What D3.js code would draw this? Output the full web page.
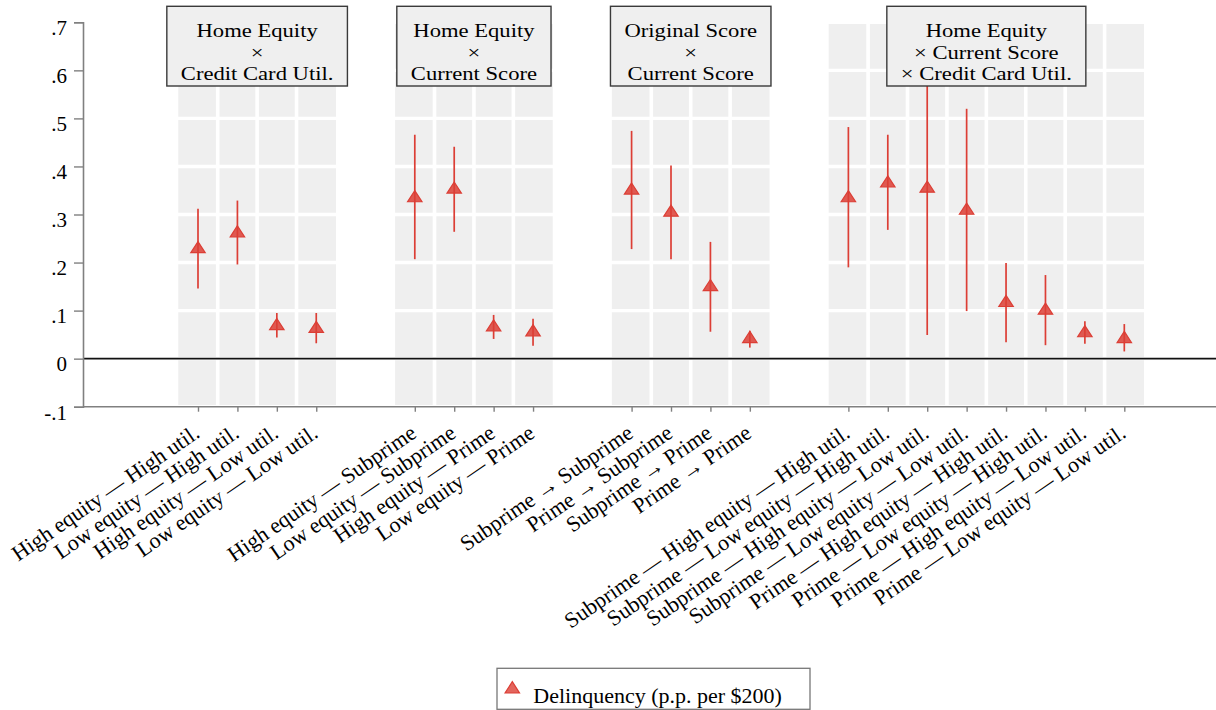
<!DOCTYPE html>
<html>
<head>
<meta charset="utf-8">
<script src="https://cdn.jsdelivr.net/npm/d3@7"></script>
<style>
  html, body { margin: 0; padding: 0; background: #fff; }
  svg { display: block; font-family: "Liberation Serif", "DejaVu Serif", serif; }
</style>
</head>
<body>
<svg id="chart" width="1216" height="710"></svg>
<script>
// ---------------- DATA ----------------
const groupTitles = [
  ["Home Equity", "\u00d7", "Credit Card Util."],
  ["Home Equity", "\u00d7", "Current Score"],
  ["Original Score", "\u00d7", "Current Score"],
  ["Home Equity", "\u00d7 Current Score", "\u00d7 Credit Card Util."]
];
const groupSizes = [4, 4, 4, 8];
const categories = [
  "High equity \u2014 High util.", "Low equity \u2014 High util.", "High equity \u2014 Low util.", "Low equity \u2014 Low util.",
  "High equity \u2014 Subprime", "Low equity \u2014 Subprime", "High equity \u2014 Prime", "Low equity \u2014 Prime",
  "Subprime \u2192 Subprime", "Prime \u2192 Subprime", "Subprime \u2192 Prime", "Prime \u2192 Prime",
  "Subprime \u2014 High equity \u2014 High util.", "Subprime \u2014 Low equity \u2014 High util.",
  "Subprime \u2014 High equity \u2014 Low util.", "Subprime \u2014 Low equity \u2014 Low util.",
  "Prime \u2014 High equity \u2014 High util.", "Prime \u2014 Low equity \u2014 High util.",
  "Prime \u2014 High equity \u2014 Low util.", "Prime \u2014 Low equity \u2014 Low util."
];
const estimates = [0.232, 0.265, 0.072, 0.066,
                   0.338, 0.356, 0.069, 0.059,
                   0.354, 0.308, 0.153, 0.045,
                   0.338, 0.369, 0.358, 0.312, 0.120, 0.104, 0.057, 0.045];
const ciLow     = [0.146, 0.196, 0.044, 0.032,
                   0.207, 0.264, 0.041, 0.027,
                   0.228, 0.207, 0.056, 0.023,
                   0.190, 0.268, 0.049, 0.099, 0.034, 0.028, 0.031, 0.015];
const ciHigh    = [0.312, 0.329, 0.095, 0.095,
                   0.466, 0.441, 0.091, 0.083,
                   0.474, 0.402, 0.243, 0.058,
                   0.482, 0.466, 0.620, 0.520, 0.199, 0.174, 0.078, 0.072];
const yTicks = [-0.1, 0, 0.1, 0.2, 0.3, 0.4, 0.5, 0.6, 0.7];
const yTickLabels = ["-.1", "0", ".1", ".2", ".3", ".4", ".5", ".6", ".7"];
const legendLabel = "Delinquency (p.p. per $200)";

// ---------------- LAYOUT ----------------
const W = 1216, H = 710;
const red = "#dc3e35";
const bandGrey = "#efefef";
const FONT = 22;

// slot positions: consecutive within a group, 2.5 slots between groups
const positions = [];
const groupIndex = [];
let p = 0;
groupSizes.forEach((n, g) => {
  for (let i = 0; i < n; i++) { positions.push(p); groupIndex.push(g); p += 1; }
  p += 1.5;
});

const x = d3.scaleLinear().domain([0, 23.5]).range([198, 1124.3]);
const y = d3.scaleLinear().domain([-0.1, 0.7]).range([406.7, 22.3]);
const step = x(1) - x(0);
const axisX0 = 83;

const svg = d3.select("#chart");

const data = categories.map((c, i) => ({
  cat: c, pos: positions[i], g: groupIndex[i],
  est: estimates[i], lo: ciLow[i], hi: ciHigh[i]
}));

// grey bands (one cell per slot)
svg.append("g").selectAll("rect").data(data).join("rect")
  .attr("x", d => x(d.pos) - step / 2)
  .attr("width", step)
  .attr("y", y(0.7))
  .attr("height", y(-0.1) - y(0.7))
  .attr("fill", bandGrey);

// white vertical separators inside groups
const seps = data.filter((d, i) => i > 0 && data[i - 1].g === d.g);
svg.append("g").selectAll("line").data(seps).join("line")
  .attr("x1", d => x(d.pos) - step / 2).attr("x2", d => x(d.pos) - step / 2)
  .attr("y1", y(0.7)).attr("y2", y(-0.1))
  .attr("stroke", "#fff").attr("stroke-width", 3.6);

// white horizontal gridlines
svg.append("g").selectAll("line").data(yTicks).join("line")
  .attr("x1", axisX0).attr("x2", W)
  .attr("y1", d => y(d)).attr("y2", d => y(d))
  .attr("stroke", "#fff").attr("stroke-width", 3.4);

// zero line
svg.append("line")
  .attr("x1", axisX0).attr("x2", W)
  .attr("y1", y(0)).attr("y2", y(0))
  .attr("stroke", "#111").attr("stroke-width", 1.6);

// Y axis
const yAxis = d3.axisLeft(y)
  .tickValues(yTicks)
  .tickFormat((d, i) => yTickLabels[i])
  .tickSize(9).tickPadding(7);
const gy = svg.append("g").attr("transform", `translate(${axisX0},0)`).call(yAxis);
gy.select(".domain").attr("stroke", "#808080").attr("stroke-width", 1.6);
gy.selectAll(".tick line").attr("stroke", "#808080").attr("stroke-width", 1.4);
gy.selectAll(".tick text")
  .attr("dy", null).attr("y", 12.3)
  .attr("font-family", "Liberation Serif, serif")
  .attr("font-size", 21).attr("fill", "#000");

// X axis
const xAxis = d3.axisBottom(x)
  .tickValues(positions)
  .tickFormat((d, i) => categories[i])
  .tickSize(5).tickSizeOuter(0);
const gx = svg.append("g").attr("transform", `translate(0,${y(-0.1)})`).call(xAxis);
gx.select(".domain").attr("d", `M${axisX0},0H${W}`)
  .attr("stroke", "#808080").attr("stroke-width", 1.6);
gx.selectAll(".tick line").attr("stroke", "#808080").attr("stroke-width", 1.4);
gx.selectAll(".tick text")
  .attr("x", 0).attr("y", 0).attr("dy", null)
  .attr("transform", "translate(2.5,29.5) rotate(-34.5)")
  .attr("text-anchor", "end")
  .attr("font-family", "Liberation Serif, serif")
  .attr("font-size", FONT).attr("fill", "#000");

// CI lines
svg.append("g").selectAll("line").data(data).join("line")
  .attr("x1", d => x(d.pos)).attr("x2", d => x(d.pos))
  .attr("y1", d => y(d.lo)).attr("y2", d => y(d.hi))
  .attr("stroke", red).attr("stroke-width", 1.7);

// triangle markers
const tri = "M0,-5.6L7.2,5.5L-7.2,5.5Z";
svg.append("g").selectAll("path").data(data).join("path")
  .attr("d", tri)
  .attr("transform", d => `translate(${x(d.pos)},${y(d.est)})`)
  .attr("fill", red).attr("fill-opacity", 0.85)
  .attr("stroke", red).attr("stroke-width", 1.2);

// group title boxes
const TITLE_FONT = 19.5, TITLE_SX = 1.16, TITLE_LH = 21.8;
groupTitles.forEach((lines, g) => {
  const members = data.filter(d => d.g === g);
  const cx = (x(members[0].pos) + x(members[members.length - 1].pos)) / 2;
  const gb = svg.append("g");
  const rect = gb.append("rect");
  const tg = gb.append("g").attr("transform", `translate(${cx},0) scale(${TITLE_SX},1)`);
  let maxW = 0;
  lines.forEach((ln, k) => {
    const t = tg.append("text")
      .attr("x", 0).attr("y", 36.8 + k * TITLE_LH)
      .attr("text-anchor", "middle")
      .attr("font-family", "Liberation Serif, serif")
      .attr("font-size", TITLE_FONT).attr("fill", "#000")
      .text(ln);
    maxW = Math.max(maxW, t.node().getBBox().width * TITLE_SX);
  });
  const wBox = maxW + 28;
  rect.attr("x", cx - wBox / 2).attr("y", 6.3)
    .attr("width", wBox).attr("height", 79.7)
    .attr("fill", bandGrey).attr("stroke", "#3a3a3a").attr("stroke-width", 1.4);
});

// legend
const lg = svg.append("g");
const lrect = lg.append("rect");
lg.append("path").attr("d", tri)
  .attr("transform", "translate(512.3,687.3)")
  .attr("fill", red).attr("fill-opacity", 0.8)
  .attr("stroke", red).attr("stroke-width", 1.2);
const lt = lg.append("text")
  .attr("x", 533.3).attr("y", 702.5)
  .attr("font-family", "Liberation Serif, serif")
  .attr("font-size", FONT).attr("fill", "#000")
  .text(legendLabel);
const lbb = lt.node().getBBox();
lrect.attr("x", 497).attr("y", 668.3)
  .attr("width", Math.max(313, lbb.x + lbb.width + 24 - 497)).attr("height", 41)
  .attr("fill", "#fff").attr("stroke", "#777").attr("stroke-width", 1.3);
</script>
</body>
</html>
